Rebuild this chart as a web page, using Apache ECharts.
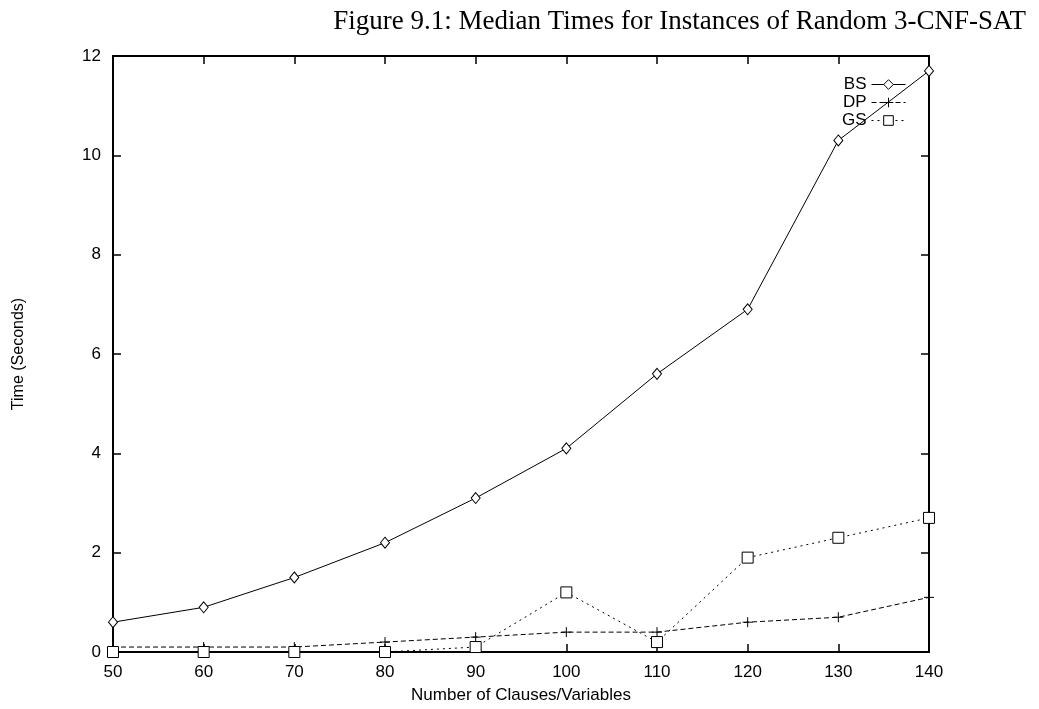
<!DOCTYPE html>
<html>
<head>
<meta charset="utf-8">
<script src="https://cdn.jsdelivr.net/npm/echarts@6/dist/echarts.min.js"></script>
<style>
html, body { margin: 0; padding: 0; background: #fff; }
#chart { width: 1039px; height: 709px; }
</style>
</head>
<body>
<div id="chart"></div>
<script>
// clauses/variables on x
var clauses = [50, 60, 70, 80, 90, 100, 110, 120, 130, 140];
// median times, seconds
var bsTimes = [0.6, 0.9, 1.5, 2.2, 3.1, 4.1, 5.6, 6.9, 10.3, 11.7];
var dpTimes = [0.1, 0.1, 0.1, 0.2, 0.3, 0.4, 0.4, 0.6, 0.7, 1.1];
var gsTimes = [0.0, 0.0, 0.0, 0.0, 0.1, 1.2, 0.2, 1.9, 2.3, 2.7];

function pairs(vals) {
	var out = [];
	for (var i = 0; i < clauses.length; i++) {
		out.push([clauses[i], vals[i]]);
	}
	return out;
}

var sans = 'Liberation Sans, Arial, sans-serif';
var plus = 'path://M0,5L10,5M5,0L5,10';

var chart = echarts.init(document.getElementById('chart'));

function axisBase(extra) {
	var a = {
		type: 'value',
		axisLine: { show: true, onZero: false, lineStyle: { color: '#000', width: 2 } },
		axisTick: { show: true, inside: true, length: 8, lineStyle: { color: '#000', width: 1.5 } },
		splitLine: { show: false },
		axisLabel: { color: '#000', fontFamily: sans, fontSize: 17 }
	};
	for (var k in extra) a[k] = extra[k];
	return a;
}

var option = {
	animation: false,
	backgroundColor: '#fff',
	title: {
		text: 'Figure 9.1: Median Times for Instances of Random 3-CNF-SAT',
		right: 8,
		top: 3,
		textStyle: { fontFamily: 'Liberation Serif, serif', fontSize: 27, fontWeight: 'normal', color: '#000' }
	},
	grid: { left: 113, right: 110, top: 56, bottom: 48 },
	legend: {
		orient: 'vertical',
		right: 128,
		top: 71,
		align: 'right',
		itemWidth: 34,
		itemHeight: 12,
		itemGap: 1,
		lineStyle: { width: 1 },
		itemStyle: { borderWidth: 1 },
		textStyle: { fontFamily: sans, fontSize: 17, color: '#000', lineHeight: 14 },
		data: ['BS', 'DP', 'GS']
	},
	xAxis: [
		axisBase({
			min: 50, max: 140, interval: 10,
			name: 'Number of Clauses/Variables',
			nameLocation: 'middle',
			nameGap: 35,
			nameTextStyle: { fontFamily: sans, fontSize: 17, color: '#000' },
			axisLabel: { color: '#000', fontFamily: sans, fontSize: 17, margin: 12 }
		}),
		axisBase({ min: 50, max: 140, interval: 10, position: 'top', axisLabel: { show: false } })
	],
	yAxis: [
		axisBase({
			min: 0, max: 12, interval: 2,
			name: 'Time (Seconds)',
			nameLocation: 'middle',
			nameGap: 86,
			nameRotate: 90,
			nameTextStyle: { fontFamily: sans, fontSize: 16, color: '#000' },
			axisLabel: { color: '#000', fontFamily: sans, fontSize: 17, margin: 12 }
		}),
		axisBase({ min: 0, max: 12, interval: 2, position: 'right', axisLabel: { show: false } })
	],
	series: [
		{
			name: 'BS', type: 'line', data: pairs(bsTimes),
			symbol: 'diamond', symbolSize: [9, 11],
			lineStyle: { color: '#000', width: 1, type: 'solid' },
			itemStyle: { color: '#fff', borderColor: '#000', borderWidth: 1 }
		},
		{
			name: 'DP', type: 'line', data: pairs(dpTimes),
			symbol: plus, symbolSize: 10,
			lineStyle: { color: '#000', width: 1, type: [5, 3] },
			itemStyle: { color: '#fff', borderColor: '#000', borderWidth: 1 }
		},
		{
			name: 'GS', type: 'line', data: pairs(gsTimes),
			symbol: 'rect', symbolSize: 11,
			lineStyle: { color: '#000', width: 1, type: [2, 4] },
			itemStyle: { color: '#fff', borderColor: '#000', borderWidth: 1 }
		}
	]
};

chart.setOption(option);
window.onresize = function () {
	chart.resize();
};
</script>
</body>
</html>
